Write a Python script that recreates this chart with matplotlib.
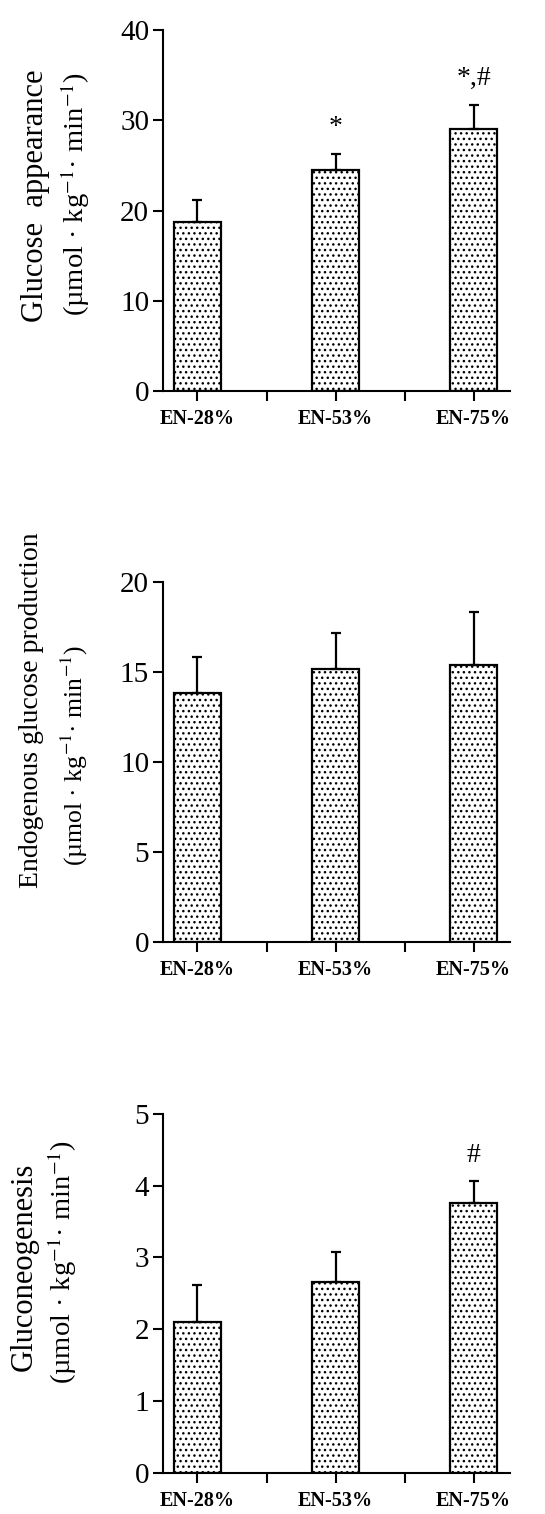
import numpy as np
import matplotlib.pyplot as plt

plt.rcParams['font.family'] = ['Liberation Serif', 'DejaVu Serif']
plt.rcParams['mathtext.fontset'] = 'stix'
plt.rcParams['hatch.linewidth'] = 1.0

groups = ['EN-28%', 'EN-53%', 'EN-75%']

ra_mean = [18.75, 24.5, 29.05]
ra_err = [2.4, 1.8, 2.65]
ra_marks = ['', '*', '*,#']

egp_mean = [13.8, 15.15, 15.4]
egp_err = [2.0, 2.0, 2.9]
egp_marks = ['', '', '']

gng_mean = [2.1, 2.66, 3.76]
gng_err = [0.51, 0.42, 0.30]
gng_marks = ['', '', '#']

units = r'(µmol · kg$^{-1}$· min$^{-1}$)'

fig = plt.figure(figsize=(5.45, 15.14), dpi=100)
W, H = 545.0, 1514.0


def panel(rect, mean, err, marks, ymax, step, title, tsize, t1, t2):
    ax = fig.add_axes(rect)
    x = np.arange(len(groups))
    ax.bar(x, mean, width=0.34, color='white', edgecolor='black',
           linewidth=1.6, hatch='...', zorder=2)
    ax.errorbar(x, mean, yerr=[np.zeros(len(err)), err], fmt='none',
                ecolor='black', elinewidth=1.6, capsize=3.3, capthick=1.6,
                zorder=3)
    for xi, m, e, s in zip(x, mean, err, marks):
        if s:
            ax.annotate(s, (xi, m + e), xytext=(0, 10),
                        textcoords='offset points', ha='center', va='bottom',
                        fontsize=20)
    ax.set_xlim(-0.25, 2.264)
    ax.set_ylim(0, ymax)
    ax.set_yticks(np.arange(0, ymax + step / 2, step))
    ax.set_xticks(x)
    ax.set_xticks([0.5, 1.5], minor=True)
    ax.set_xticklabels(groups, fontsize=14.5, fontweight='bold')
    ax.tick_params(axis='y', direction='out', length=7, width=1.5,
                   labelsize=21, pad=3)
    ax.tick_params(axis='x', which='both', direction='out', length=7,
                   width=1.5, pad=6)
    for s in ['top', 'right']:
        ax.spines[s].set_visible(False)
    for s in ['left', 'bottom']:
        ax.spines[s].set_linewidth(1.5)
    fig.text(t1[0] / W, 1 - t1[1] / H, title, rotation=90, ha='center',
             va='center', fontsize=tsize)
    fig.text(t2[0] / W, 1 - t2[1] / H, units, rotation=90, ha='center',
             va='center', fontsize=tsize - 1.5)
    return ax


panel([0.299, 0.7417, 0.637, 0.2384], ra_mean, ra_err, ra_marks, 40, 10,
      'Glucose  appearance', 22, (36, 196), (75, 194))
panel([0.299, 0.3776, 0.637, 0.2382], egp_mean, egp_err, egp_marks, 20, 5,
      'Endogenous glucose production', 20, (32, 710), (74, 755))
panel([0.299, 0.0273, 0.637, 0.2369], gng_mean, gng_err, gng_marks, 5, 1,
      'Gluconeogenesis', 22, (24, 1267), (62, 1262))

fig.savefig('out.png', dpi=100)
